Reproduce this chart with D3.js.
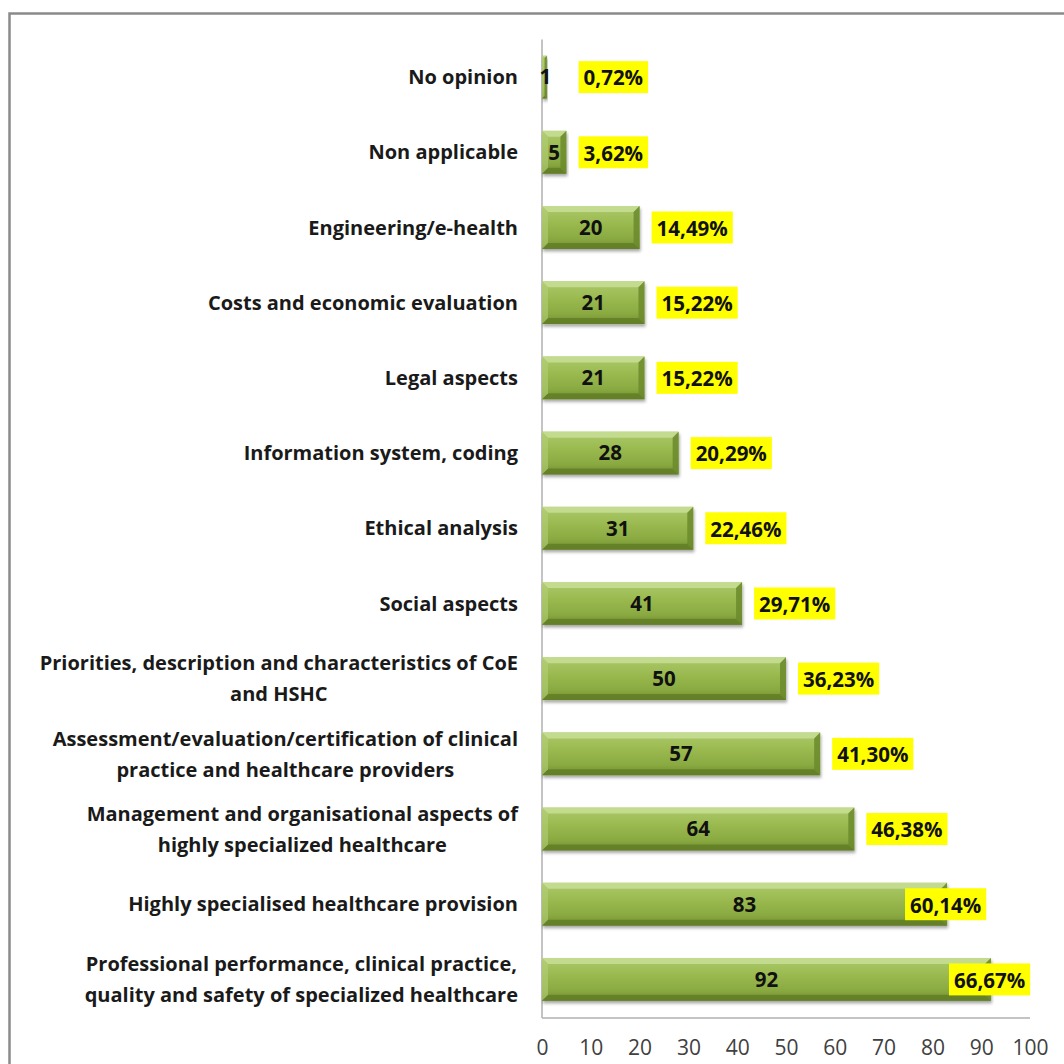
<!DOCTYPE html>
<html>
<head>
<meta charset="utf-8">
<script src="https://cdn.jsdelivr.net/npm/d3@7"></script>
<style>
  body { margin: 0; background: #ffffff; }
  svg { display: block; }
</style>
</head>
<body>
<svg id="chart" width="1064" height="1064"></svg>
<script>
// Survey topics (top to bottom), answer counts and share of respondents (%)
const categories = [
  "No opinion",
  "Non applicable",
  "Engineering/e-health",
  "Costs and economic evaluation",
  "Legal aspects",
  "Information system, coding",
  "Ethical analysis",
  "Social aspects",
  "Priorities, description and characteristics of CoE\nand HSHC",
  "Assessment/evaluation/certification of clinical\npractice and healthcare providers",
  "Management and organisational aspects of\nhighly specialized healthcare",
  "Highly specialised healthcare provision",
  "Professional performance, clinical practice,\nquality and safety of specialized healthcare"
];
const counts = [1, 5, 20, 21, 21, 28, 31, 41, 50, 57, 64, 83, 92];
const shares = [0.72, 3.62, 14.49, 15.22, 15.22, 20.29, 22.46, 29.71, 36.23, 41.30, 46.38, 60.14, 66.67];
const xTicks = [0, 10, 20, 30, 40, 50, 60, 70, 80, 90, 100];

const FONT = "'Open Sans', 'Noto Sans', sans-serif";
const svg = d3.select("#chart");

const plot = { left: 542, right: 1030, top: 39.5, bottom: 1017 };

const x = d3.scaleLinear().domain([0, 100]).range([plot.left, plot.right]);
const y = d3.scaleBand().domain(d3.range(categories.length))
  .range([plot.top, plot.bottom]).paddingInner(0.43).paddingOuter(0.215);

// frame around the chart area
svg.append("rect")
  .attr("x", 9.5).attr("y", 13.5).attr("width", 1200).attr("height", 1200)
  .attr("fill", "none").attr("stroke", "#8a8a8a").attr("stroke-width", 2.5);

// gradients and shadow for the bevelled bars
const defs = svg.append("defs");
const grad = defs.append("linearGradient").attr("id", "barFill")
  .attr("x1", 0).attr("y1", 0).attr("x2", 0).attr("y2", 1);
[["0%", "#acc96a"], ["40%", "#9aba50"], ["75%", "#8aaa42"], ["100%", "#728f30"]]
  .forEach(([o, c]) => grad.append("stop").attr("offset", o).attr("stop-color", c));
const shadow = defs.append("filter").attr("id", "barShadow")
  .attr("x", "-5%").attr("y", "-20%").attr("width", "115%").attr("height", "160%");
shadow.append("feDropShadow").attr("dx", 1).attr("dy", 2.5).attr("stdDeviation", 1.6)
  .attr("flood-color", "#000").attr("flood-opacity", 0.35);

// axis lines
svg.append("line")
  .attr("x1", x(0)).attr("x2", x(0)).attr("y1", plot.top).attr("y2", plot.bottom + 1)
  .attr("stroke", "#b0b0b0").attr("stroke-width", 1.5);
svg.append("line")
  .attr("x1", x(0)).attr("x2", x(100)).attr("y1", plot.bottom + 1).attr("y2", plot.bottom + 1)
  .attr("stroke", "#b0b0b0").attr("stroke-width", 1.5);

// x axis tick labels
const xAxis = d3.axisBottom(x).tickValues(xTicks).tickSize(0).tickPadding(22);
const gx = svg.append("g").attr("transform", `translate(0,${plot.bottom + 1})`).call(xAxis);
gx.select(".domain").remove();
gx.selectAll("text").attr("font-family", FONT).attr("font-size", 21)
  .attr("fill", "#404040");

// bars
const bars = svg.append("g").selectAll("g.bar").data(counts).join("g").attr("class", "bar");
bars.each(function (v, i) {
  const g = d3.select(this);
  const x0 = x(0), x1 = x(v), y0 = y(i), h = y.bandwidth(), y1 = y0 + h;
  const w = x1 - x0;
  const b = Math.min(6, w / 2, h / 2);
  g.append("rect").attr("x", x0).attr("y", y0).attr("width", w).attr("height", h)
    .attr("fill", "url(#barFill)").attr("filter", "url(#barShadow)");
  // bevel faces
  g.append("polygon").attr("points", [[x0, y0], [x1, y0], [x1 - b, y0 + b], [x0 + b, y0 + b]].join(" "))
    .attr("fill", "#c8de96").attr("opacity", 0.85);
  g.append("polygon").attr("points", [[x0, y1], [x1, y1], [x1 - b, y1 - b], [x0 + b, y1 - b]].join(" "))
    .attr("fill", "#5c7724").attr("opacity", 0.7);
  g.append("polygon").attr("points", [[x1, y0], [x1, y1], [x1 - b, y1 - b], [x1 - b, y0 + b]].join(" "))
    .attr("fill", "#6b8a2c").attr("opacity", 0.85);
  g.append("polygon").attr("points", [[x0, y0], [x0, y1], [x0 + b, y1 - b], [x0 + b, y0 + b]].join(" "))
    .attr("fill", "#b4cf78").attr("opacity", 0.6);
});

// counts centred in each bar
svg.append("g").selectAll("text").data(counts).join("text")
  .attr("x", d => (x(0) + x(d)) / 2 + (d < 3 ? 1 : 0))
  .attr("y", (d, i) => y(i) + y.bandwidth() / 2)
  .attr("dy", "0.36em").attr("text-anchor", "middle")
  .attr("font-family", FONT).attr("font-weight", 700).attr("font-size", 20.5)
  .attr("fill", "#111").text(d => d);

// share labels on yellow boxes
const fmt = v => d3.format(".2f")(v).replace(".", ",") + "%";
const shareG = svg.append("g");
shares.forEach((s, i) => {
  const g = shareG.append("g");
  const t = g.append("text")
    .attr("font-family", FONT).attr("font-weight", 700).attr("font-size", 20.5)
    .attr("fill", "#111").attr("dy", "0.36em").text(fmt(s));
  const tw = t.node().getComputedTextLength();
  const bw = tw + 10, bh = 32;
  let left = Math.max(x(counts[i]) + 12, x(7.5));
  if (left + bw > x(100)) left = x(counts[i]) - 42;
  const cy = y(i) + y.bandwidth() / 2;
  g.insert("rect", "text").attr("x", left).attr("y", cy - bh / 2)
    .attr("width", bw).attr("height", bh).attr("fill", "#ffff00");
  t.attr("x", left + 5).attr("y", cy + 1);
});

// category labels, right-aligned block with centred lines
const labelRight = 518, lineH = 31;
categories.forEach((c, i) => {
  const lines = c.split("\n");
  const g = svg.append("g");
  const texts = lines.map(ln => g.append("text")
    .attr("font-family", FONT).attr("font-weight", 700).attr("font-size", 20)
    .attr("fill", "#1a1a1a").attr("text-anchor", "middle").attr("dy", "0.36em")
    .text(ln));
  const maxW = d3.max(texts, t => t.node().getComputedTextLength());
  const cx = labelRight - maxW / 2;
  const cy = y(i) + y.bandwidth() / 2;
  texts.forEach((t, k) => t.attr("x", cx).attr("y", cy + (k - (lines.length - 1) / 2) * lineH));
});
</script>
</body>
</html>
